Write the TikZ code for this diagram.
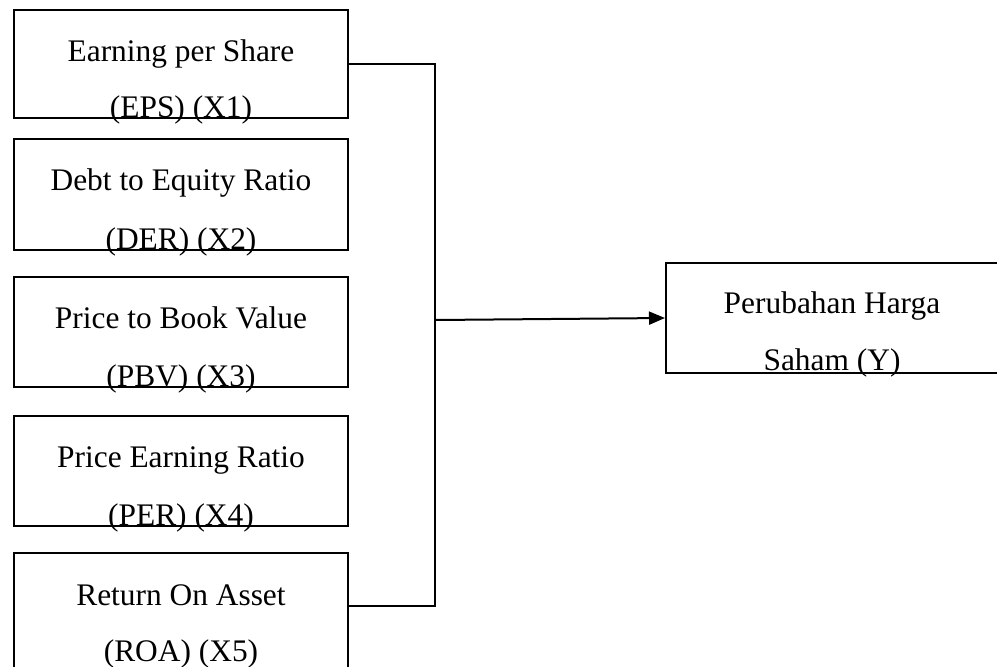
\documentclass[tikz,border=0pt]{standalone}
\usepackage{fontspec}
\setmainfont{Liberation Serif}
\usetikzlibrary{arrows.meta}
\begin{document}
\begin{tikzpicture}[x=0.5pt,y=-0.5pt,
  box/.style={draw, line width=1pt, inner sep=0pt},
  lbl/.style={font=\fontsize{15.7}{18}\selectfont, anchor=base, inner sep=0pt},
  link/.style={line width=1pt}]
\useasboundingbox (0,0) rectangle (997,666);
\clip (0,0) rectangle (997,666);
% boxes
\node[box, minimum width=167pt, minimum height=54pt]   (b1) at (181,64) {};
\node[box, minimum width=167pt, minimum height=55.5pt] (b2) at (181,194.5) {};
\node[box, minimum width=167pt, minimum height=55pt]   (b3) at (181,332) {};
\node[box, minimum width=167pt, minimum height=55pt]   (b4) at (181,471) {};
\node[box, minimum width=167pt, minimum height=73.5pt] (b5) at (181,626.5) {};
\node[box, minimum width=166pt, minimum height=55pt]   (by) at (832,318) {};
% texts
\node[lbl] (t1a) at (181,61)  {Earning per Share};
\node[lbl] (t1b) at (181,117) {(EPS) (X1)};
\node[lbl] (t2a) at (181,190) {Debt to Equity Ratio};
\node[lbl] (t2b) at (181,249) {(DER) (X2)};
\node[lbl] (t3a) at (181,328) {Price to Book Value};
\node[lbl] (t3b) at (181,386) {(PBV) (X3)};
\node[lbl] (t4a) at (181,467) {Price Earning Ratio};
\node[lbl] (t4b) at (181,525) {(PER) (X4)};
\node[lbl] (t5a) at (181,605) {Return On Asset};
\node[lbl] (t5b) at (181,661) {(ROA) (X5)};
\node[lbl] (tya) at (832,313) {Perubahan Harga};
\node[lbl] (tyb) at (832,370) {Saham (Y)};
% connectors
\coordinate (j1) at (435,64);
\coordinate (j5) at (435,606);
\coordinate (jm) at (435,320);
\draw[link] (b1.east) -- (j1) -- (j5) -- (j5 -| b5.east);
\draw[link, -{Triangle[length=8pt, width=6.5pt]}] (jm) -- (by.west);
\end{tikzpicture}
\end{document}
